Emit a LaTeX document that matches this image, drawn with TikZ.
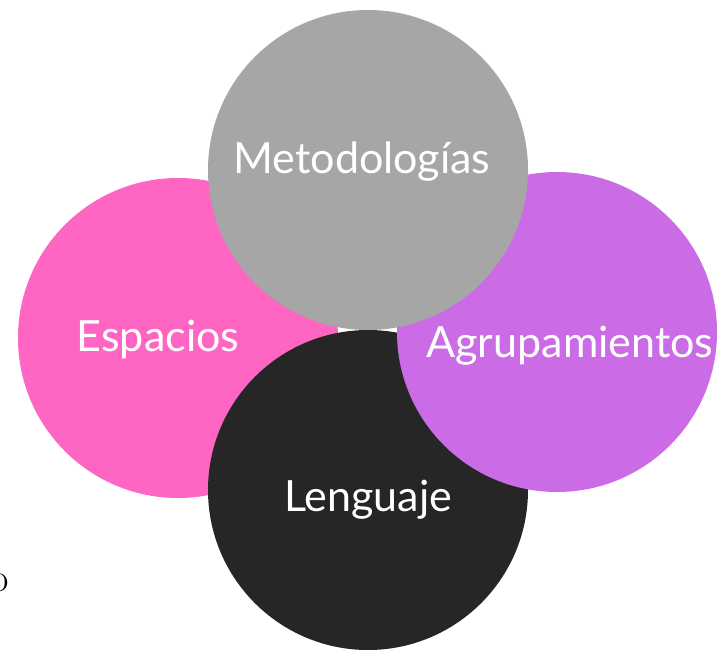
\documentclass[tikz,border=0pt]{standalone}
\usepackage{fontspec}
\setmainfont{Lato}
\usetikzlibrary{positioning}
\definecolor{rosa}{HTML}{FF66C4}
\definecolor{lila}{HTML}{CB6CE6}
\definecolor{gris}{HTML}{A6A6A6}
\definecolor{negro}{HTML}{262626}

\begin{document}
\begin{tikzpicture}
	[   x=1pt,y=-1pt,
		cnode/.style={fill=#1,draw=none,minimum size=320pt,inner sep=0pt,circle},
		ctext/.style={text=white,font=\fontsize{43}{50}\selectfont,inner sep=0pt},
	]
	\useasboundingbox (0,0) rectangle (717,650);

	% circulos
	\node[cnode=rosa] (esp) at (178,338) {};
	\node[cnode=negro] (len) at (368,490) {};
	\node[cnode=lila] (agr) at (557,332) {};
	\node[cnode=gris] (met) at (368,170) {};

	% textos
	\node[ctext] (t-met) at (362,162) {Metodologías};
	\node[ctext] (t-esp) at (158,340) {Espacios};
	\node[ctext] (t-agr) at (570,346) {Agrupamientos};
	\node[ctext] (t-len) at (368,500) {Lenguaje};

	\node[font=\fontspec{Latin Modern Roman}\fontsize{40}{40}\selectfont,inner sep=0pt] (o) at (0,583) {o};
\end{tikzpicture}
\end{document}
